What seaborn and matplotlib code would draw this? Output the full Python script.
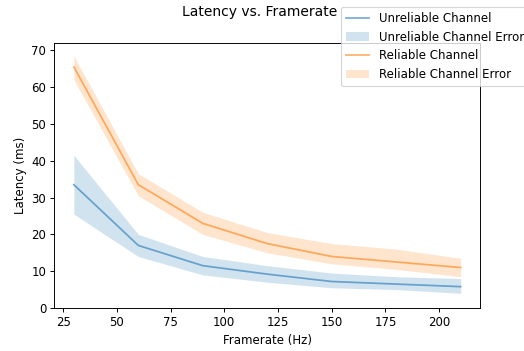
import numpy as np
import pandas as pd
import seaborn as sns
import matplotlib
matplotlib.use("Agg")
import matplotlib.pyplot as plt

framerate = [30, 60, 90, 120, 150, 180, 210]

unreliable = [33.5, 17.0, 11.5, 9.2, 7.2, 6.5, 5.8]
unreliable_lo = [25.5, 14.0, 9.0, 7.0, 5.5, 5.0, 4.0]
unreliable_hi = [41.5, 20.0, 14.0, 11.5, 9.5, 8.5, 8.0]

reliable = [65.5, 33.5, 23.0, 17.5, 14.0, 12.5, 11.0]
reliable_lo = [62.0, 30.5, 20.0, 15.0, 12.0, 10.5, 8.5]
reliable_hi = [68.5, 36.5, 26.0, 20.5, 17.5, 16.0, 13.5]

df = pd.DataFrame({
    "framerate": framerate,
    "unreliable": unreliable,
    "reliable": reliable,
})

# reference looks like a default-size figure shrunk down, so render at low dpi
dpi = 85
fig = plt.figure(figsize=(524 / dpi, 351 / dpi), dpi=dpi)
ax = fig.add_axes([0.104, 0.1225, 0.812, 0.755])

sns.lineplot(data=df, x="framerate", y="unreliable", ax=ax, color="tab:blue",
             alpha=0.6, label="Unreliable Channel")
ax.fill_between(framerate, unreliable_lo, unreliable_hi, color="tab:blue",
                alpha=0.2, linewidth=0, label="Unreliable Channel Error")
sns.lineplot(data=df, x="framerate", y="reliable", ax=ax, color="tab:orange",
             alpha=0.6, label="Reliable Channel")
ax.fill_between(framerate, reliable_lo, reliable_hi, color="tab:orange",
                alpha=0.2, linewidth=0, label="Reliable Channel Error")

ax.set_ylim(0, 72)
ax.set_xlim(21, 219)
ax.set_xlabel("Framerate (Hz)")
ax.set_ylabel("Latency (ms)")
fig.suptitle("Latency vs. Framerate", x=0.495, y=0.985, fontsize=11.8)
ax.legend(loc="upper left", bbox_to_anchor=(0.673, 1.136), borderaxespad=0)

fig.savefig("out.png", dpi=dpi)
